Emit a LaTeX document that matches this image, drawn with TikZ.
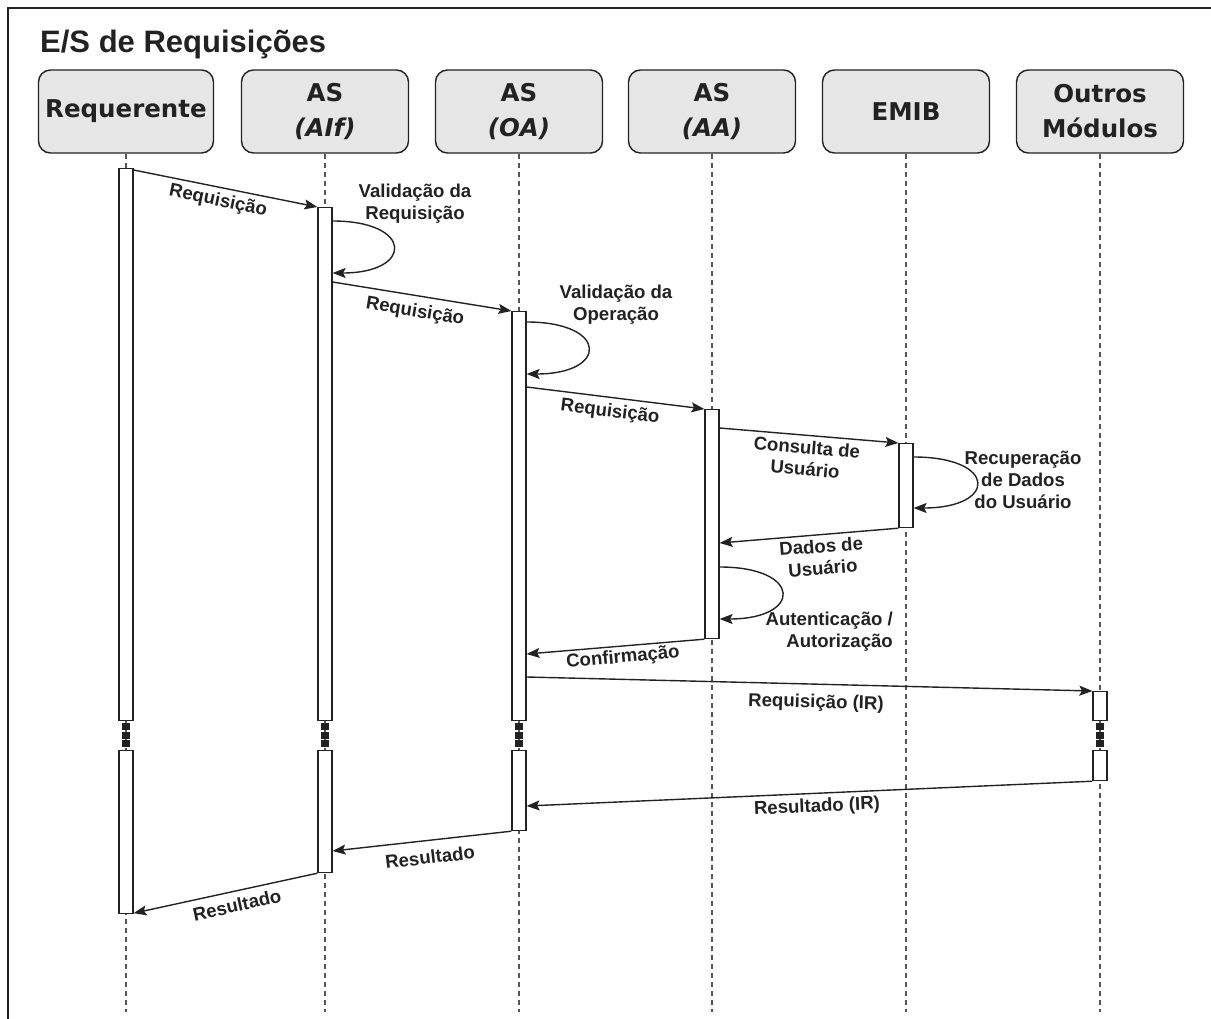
\documentclass[tikz,border=0pt]{standalone}
\usepackage{fontspec}
\usetikzlibrary{arrows.meta,calc}
\newfontfamily\hdrfont{DejaVu Sans}
\newfontfamily\lblfont{Liberation Sans}
\definecolor{ink}{HTML}{222222}
\definecolor{boxfill}{HTML}{E6E6E6}
\definecolor{lifegray}{HTML}{555555}

\begin{document}
\begin{tikzpicture}[x=1pt,y=-1pt,
  header/.style={draw=ink, line width=1.4pt, fill=boxfill, rounded corners=12pt,
    minimum width=167pt, minimum height=83pt, inner sep=0pt, align=center,
    font=\hdrfont\bfseries\fontsize{24.5}{35}\selectfont, text=ink},
  lifeline/.style={draw=lifegray, line width=1.2pt, dash pattern=on 5pt off 4pt},
  actbar/.style={draw=ink, line width=1.2pt, fill=white, minimum width=14pt,
    inner sep=0pt, anchor=north},
  msg/.style={draw=ink, line width=1.4pt,
    -{Stealth[length=13pt,width=10pt,inset=2.5pt]}},
  lbl/.style={font=\lblfont\bfseries\fontsize{18.6}{22}\selectfont, text=ink,
    align=center, inner sep=0pt}
]
\useasboundingbox (0,0) rectangle (1211,1019);

% frame
\draw[ink, line width=2.5pt] (8,1019) -- (8,8) -- (1211,8);

% title
\node[anchor=base west, inner sep=0pt, text=ink,
  font=\lblfont\bfseries\fontsize{31}{32}\selectfont] (title) at (40,53) {E/S de Requisições};

% participants
\node[header, minimum width=175pt] (hreq) at (126,111.5) {Requerente};
\node[header] (haif)  at (325,111.5) {AS\\\itshape(AIf)};
\node[header] (hoa)   at (519,111.5) {AS\\\itshape(OA)};
\node[header] (haa)   at (712,111.5) {AS\\\itshape(AA)};
\node[header] (hemib) at (906,111.5) {EMIB};
\node[header] (hout)  at (1100,111.5) {Outros\\Módulos};

% lifelines
\foreach \h in {hreq,haif,hoa,haa,hemib,hout}
  \draw[lifeline] (\h.south) -- ++(0,858);

% activation bars
\node[actbar, minimum height=552pt] (req1)  at (126,168) {};
\node[actbar, minimum height=163pt] (req2)  at (126,750) {};
\node[actbar, minimum height=513pt] (aif1)  at (325,207) {};
\node[actbar, minimum height=122pt] (aif2)  at (325,750) {};
\node[actbar, minimum height=409pt] (oa1)   at (519,311) {};
\node[actbar, minimum height=80pt]  (oa2)   at (519,750) {};
\node[actbar, minimum height=229pt] (aa1)   at (712,409) {};
\node[actbar, minimum height=84pt]  (emib1) at (906,443) {};
\node[actbar, minimum height=29pt]  (out1)  at (1100,691) {};
\node[actbar, minimum height=30pt]  (out2)  at (1100,750) {};

% interruption marks
\foreach \bx in {126,325,519,1100}
  \foreach \by in {723,731.5,740}
    \fill[ink] (\bx-4,\by) rectangle ++(8,7);

% messages
\draw[msg] ($(req1.north east)+(0,2)$) -- (aif1.north west);
\draw[msg] ($(aif1.north east)+(0,14)$) .. controls +(81,0) and +(81,0) .. ($(aif1.north east)+(0,66)$);
\draw[msg] ($(aif1.north east)+(0,75)$) -- (oa1.north west);
\draw[msg] ($(oa1.north east)+(0,11)$) .. controls +(82,0) and +(82,0) .. ($(oa1.north east)+(0,63)$);
\draw[msg] ($(oa1.north east)+(0,76)$) -- (aa1.north west);
\draw[msg] ($(aa1.north east)+(0,19)$) -- (emib1.north west);
\draw[msg] ($(emib1.north east)+(0,14)$) .. controls +(84,0) and +(84,0) .. ($(emib1.north east)+(0,65)$);
\draw[msg] (emib1.south west) -- ($(aa1.north east)+(0,134)$);
\draw[msg] ($(aa1.north east)+(0,158)$) .. controls +(83,0) and +(83,0) .. ($(aa1.north east)+(0,210)$);
\draw[msg] (aa1.south west) -- ($(oa1.north east)+(0,343)$);
\draw[msg] ($(oa1.north east)+(0,366)$) -- (out1.north west);
\draw[msg] (out2.south west) -- ($(oa2.north east)+(0,56)$);
\draw[msg] (oa2.south west) -- ($(aif2.north east)+(0,101)$);
\draw[msg] (aif2.south west) -- ($(req2.south east)+(0,-1)$);

% message labels
\node[lbl, rotate=-11.6] (l1)  at (218,201) {Requisição};
\node[lbl]               (l2)  at (415,204) {Validação da\\Requisição};
\node[lbl, rotate=-9.2]  (l3)  at (415,312) {Requisição};
\node[lbl]               (l4)  at (616,305) {Validação da\\Operação};
\node[lbl, rotate=-7]    (l5)  at (610,412) {Requisição};
\node[lbl, rotate=-4.8]  (l6)  at (806,458) {Consulta de\\Usuário};
\node[lbl]               (l7)  at (1023,480) {Recuperação\\de Dados\\do Usuário};
\node[lbl, rotate=4.5]   (l8)  at (822,557) {Dados de\\Usuário};
\node[lbl, align=right, anchor=east] (l9) at (893,632) {Autenticação /\\Autorização};
\node[lbl, rotate=5.2]   (l10) at (623,658) {Confirmação};
\node[lbl, rotate=-1.5]  (l11) at (816,703) {Requisição (IR)};
\node[lbl, rotate=2.6]   (l12) at (817,807) {Resultado (IR)};
\node[lbl, rotate=6.7]   (l13) at (430,857) {Resultado};
\node[lbl, rotate=12.5]  (l14) at (237,905) {Resultado};
\end{tikzpicture}
\end{document}
